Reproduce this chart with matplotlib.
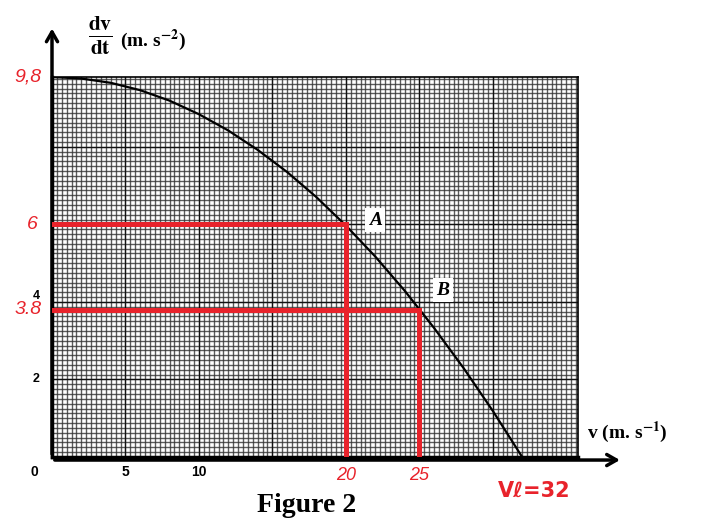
import matplotlib
matplotlib.use("Agg")
import matplotlib.pyplot as plt
import numpy as np

# curve: v (m/s) -> dv/dt (m/s^2)
v = [0, 2, 4, 6, 8, 10, 12, 14, 16, 18, 20, 22, 24, 26, 28, 30, 32]
a = [9.8, 9.76, 9.65, 9.46, 9.19, 8.84, 8.42, 7.92, 7.35, 6.70, 5.97,
     5.17, 4.29, 3.33, 2.30, 1.19, 0.0]

# construction lines for points A and B
pts_v = [20, 25]
pts_a = [6, 3.8]
pts_name = ["A", "B"]
pts_lab = [(22.0, 6.1), (26.6, 4.3)]

x_ticks = [0, 5, 10]
y_ticks = [2, 4]
red_x = [(20, "20"), (25, "25")]
red_y = [(9.8, "9,8"), (6, "6"), (3.8, "3.8")]

RED = "#e8232b"

fig = plt.figure(figsize=(7.06, 5.26), dpi=100)
ax = fig.add_axes([52 / 706, 69 / 526, 526 / 706, 380 / 526])
ax.set_xlim(0, 35.8)
ax.set_ylim(0, 9.8)

# millimetre paper
for xv in np.arange(0, 35.8, 1 / 3):
    ax.axvline(xv, color="#333333", lw=1.0, alpha=0.8, zorder=1)
for yv in np.arange(0, 9.8, 0.125):
    ax.axhline(yv, color="#333333", lw=1.0, alpha=0.8, zorder=1)
for xv in np.arange(5, 35, 5):
    ax.axvline(xv, color="#111111", lw=0.9, zorder=1)
for yv in np.arange(2, 9.8, 2):
    ax.axhline(yv, color="#111111", lw=0.9, zorder=1)

ax.set_xticks([])
ax.set_yticks([])
for s in ["top", "right"]:
    ax.spines[s].set_linewidth(1.2)
for s in ["left", "bottom"]:
    ax.spines[s].set_linewidth(2.5)

ax.plot(v, a, color="black", lw=1.6, zorder=3)

for pv, pa in zip(pts_v, pts_a):
    ax.plot([0, pv, pv], [pa, pa, 0], color=RED, lw=3.6, zorder=4,
            solid_joinstyle="miter")

for name, (lx, ly) in zip(pts_name, pts_lab):
    ax.text(lx, ly, name, fontsize=14, family="Liberation Serif", weight="bold",
            style="italic", ha="center", va="center", zorder=5,
            bbox=dict(facecolor="white", edgecolor="none", pad=2.5))

# axis arrows
ax.annotate("", xy=(0, 1.135), xytext=(0, 0), xycoords="axes fraction",
            arrowprops=dict(arrowstyle="->,head_length=0.7,head_width=0.4",
                            lw=2.5, color="black"), annotation_clip=False)
ax.annotate("", xy=(1.085, -0.008), xytext=(0, -0.008), xycoords="axes fraction",
            arrowprops=dict(arrowstyle="->,head_length=0.7,head_width=0.4",
                            lw=2.5, color="black"), annotation_clip=False)

xt = ax.get_xaxis_transform()
yt = ax.get_yaxis_transform()

for t in x_ticks:
    ax.text(t + (0.0 if t else -1.2), -0.04, str(t), transform=xt, fontsize=10,
            family="Liberation Sans", weight="bold", ha="center", va="center")
for t, lab in red_x:
    ax.text(t, -0.05, lab, transform=xt, fontsize=13, family="Liberation Sans",
            style="italic", color=RED, ha="center", va="center")
ax.text(32.8, -0.09, "Vℓ=32", transform=xt, fontsize=15, family="DejaVu Sans",
        weight="bold", color=RED, ha="center", va="center")

for t in y_ticks:
    ax.text(-0.03, t + (0.15 if t == 4 else 0), str(t), transform=yt, fontsize=9,
            family="Liberation Sans", weight="bold", ha="center", va="center")
for t, lab in red_y:
    ax.text(-0.045 if lab != "6" else -0.038, t, lab, transform=yt, fontsize=14,
            family="Liberation Sans", style="italic", color=RED,
            ha="center", va="center")

# axis titles
plt.rcParams["mathtext.fontset"] = "stix"
fig.text(100 / 706, 1 - 36 / 526, r"$\mathbf{\frac{dv}{dt}}$", fontsize=22,
         ha="center", va="center")
fig.text(120 / 706, 1 - 40 / 526, r"(m. s$^{\mathbf{-2}}$)", fontsize=14,
         family="Liberation Serif", weight="bold", ha="left", va="center")
fig.text(587 / 706, 1 - 432 / 526, r"v (m. s$^{\mathbf{-1}}$)", fontsize=14,
         family="Liberation Serif", weight="bold", ha="left", va="center")
fig.text(307 / 706, 1 - 506 / 526, "Figure 2", fontsize=20,
         family="Liberation Serif", weight="bold", ha="center", va="center")

fig.savefig("out.png", dpi=100, facecolor="white")
